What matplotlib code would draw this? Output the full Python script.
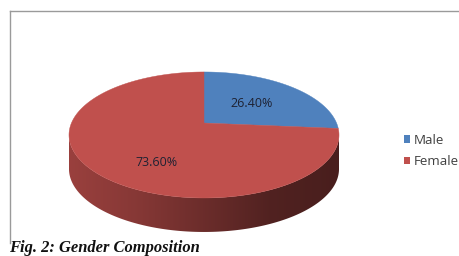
import numpy as np
import matplotlib
matplotlib.use("Agg")
import matplotlib.pyplot as plt
from matplotlib.patches import Polygon, Patch
from matplotlib.lines import Line2D
from matplotlib.colors import LinearSegmentedColormap, to_rgb

# ---- data ----
categories = ["Male", "Female"]
shares = [26.40, 73.60]
colors = ["#4f81bd", "#c0504d"]
caption = "Fig. 2: Gender Composition"

# ---- layout / style (pixels) ----
W, H = 459, 256
CX, CY = 204, 123          # projected pie centre
SEMI_A, SEMI_B = 135, 63   # visible ellipse semi-axes
E = 0.19                   # perspective strength
DEPTH = 34                 # thickness of the side wall
LABEL_NUDGE = [(-7, 3), (16, 13)]

A = SEMI_A * np.sqrt(1 - E ** 2)
C = SEMI_B * (1 - E ** 2)


def proj(u, v):
    u = np.asarray(u, float)
    v = np.asarray(v, float)
    w = 1 + E * v
    return CX + A * u / w, CY - C * v / w


fig = plt.figure(figsize=(W / 100, H / 100), dpi=100)
fig.patch.set_facecolor("white")
ax = fig.add_axes([0, 0, 1, 1])

wedges, texts, autotexts = ax.pie(
    shares, colors=colors, startangle=90, counterclock=False,
    autopct="%.2f%%", pctdistance=0.6, radius=1, center=(0, 0))

ax.set_aspect("auto")
ax.set_xlim(0, W)
ax.set_ylim(H, 0)
ax.axis("off")

# front visible arc of the rim (degrees)
f1 = 180 + np.degrees(np.arcsin(E))
f2 = 360 - np.degrees(np.arcsin(E))

# side walls (drawn first)
for w, col in zip(wedges, colors):
    t1, t2 = w.theta1, w.theta2
    for k in (-2, -1, 0, 1):
        lo = max(t1, f1 + 360 * k)
        hi = min(t2, f2 + 360 * k)
        if hi <= lo:
            continue
        th = np.radians(np.linspace(lo, hi, 300))
        x, y = proj(w.r * np.cos(th), w.r * np.sin(th))
        xs = np.concatenate([x, x[::-1]])
        ys = np.concatenate([y, (y + DEPTH)[::-1]])
        poly = Polygon(np.column_stack([xs, ys]), closed=True,
                       facecolor="none", edgecolor="none")
        ax.add_patch(poly)
        base = np.array(to_rgb(col))
        cmap = LinearSegmentedColormap.from_list(
            "side", [base * 0.80, base * 0.70, base * 0.56, base * 0.42, base * 0.38])
        grad = np.linspace(0, 1, 256).reshape(1, -1)
        im = ax.imshow(grad, cmap=cmap, aspect="auto",
                       extent=(xs.min(), xs.max(), ys.max(), ys.min()),
                       interpolation="bilinear", zorder=1)
        im.set_clip_path(poly)

# top faces (each wedge outline from its own angles)
for w, col in zip(wedges, colors):
    th = np.radians(np.linspace(w.theta1, w.theta2, 400))
    u = np.concatenate([[w.center[0]], w.center[0] + w.r * np.cos(th)])
    v = np.concatenate([[w.center[1]], w.center[1] + w.r * np.sin(th)])
    px, py = proj(u, v)
    ax.add_patch(Polygon(np.column_stack([px, py]), closed=True,
                         facecolor=col, edgecolor=col, lw=0.3, zorder=2))
    w.remove()

for t in texts:
    t.remove()

for t, (dx, dy) in zip(autotexts, LABEL_NUDGE):
    x, y = t.get_position()
    px, py = proj(x, y)
    t.set_position((float(px) + dx, float(py) + dy))
    t.set_fontsize(9)
    t.set_fontfamily("Open Sans")
    t.set_color("#1e2233")
    t.set_zorder(3)
    t.set_ha("center")
    t.set_va("center")

# legend
handles = [Patch(facecolor=c, edgecolor="none") for c in colors]
leg = fig.legend(handles, categories, loc="center left",
                 bbox_to_anchor=(404 / W, 1 - 151 / H),
                 frameon=False, handlelength=0.48,
                 handleheight=0.48, handletextpad=0.28, labelspacing=0.62,
                 borderpad=0, borderaxespad=0,
                 prop={"family": "Open Sans", "size": 9.6})
for txt in leg.get_texts():
    txt.set_color("#404040")

# frame
fig.add_artist(Line2D([9.5 / W, 1], [1 - 10.5 / H] * 2, transform=fig.transFigure,
                      color="#9a9a9a", lw=1))
fig.add_artist(Line2D([9.5 / W] * 2, [1 - 10.5 / H, 1 - 243 / H],
                      transform=fig.transFigure, color="#9a9a9a", lw=1))

# caption
fig.text(9 / W, 1 - 252 / H, caption, family="Liberation Serif",
         weight="bold", style="italic", size=11.9, va="baseline", ha="left",
         color="#111111")

fig.savefig("out.png", dpi=100, facecolor="white")
